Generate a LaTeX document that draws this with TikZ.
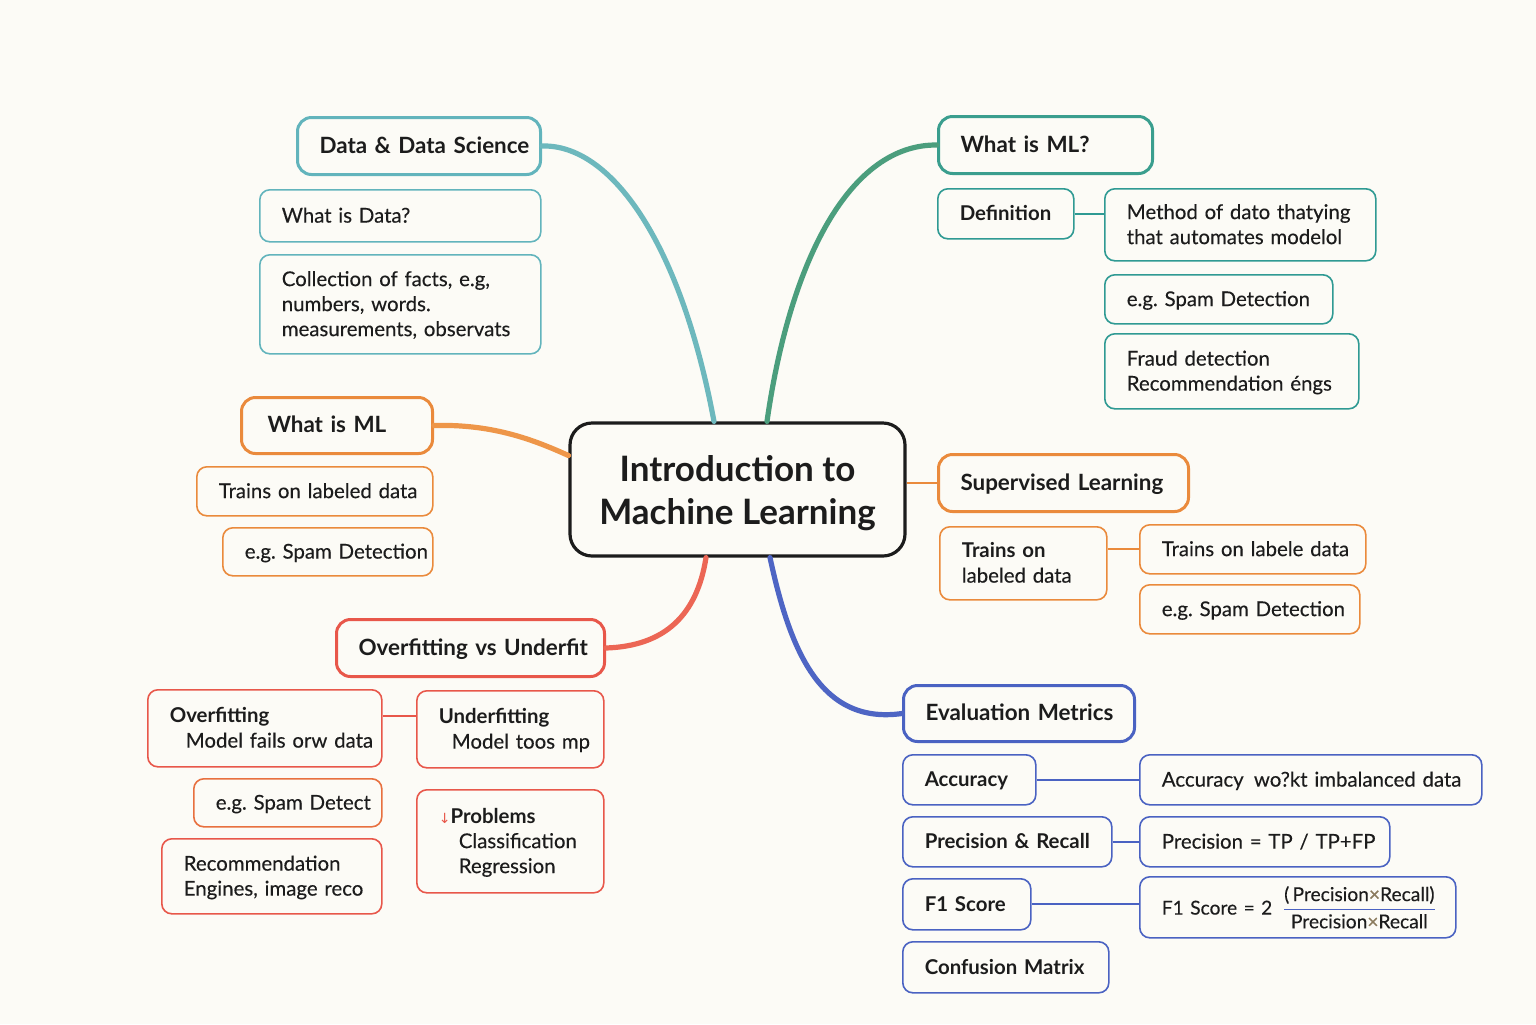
\documentclass[tikz,border=0pt]{standalone}
\usepackage{amsmath}
\usepackage{array}
\usepackage{fontspec}
\setmainfont{Lato}[UprightFeatures={FakeBold=0.25}]
\newfontfamily\arrowfont{DejaVu Sans}
\usetikzlibrary{positioning}

\definecolor{paper}{HTML}{FCFBF6}
\definecolor{ink}{HTML}{1C1C1C}
\definecolor{dataC}{HTML}{62B4BC}
\definecolor{dataL}{HTML}{6DB8BD}
\definecolor{mlC}{HTML}{3A9E8E}
\definecolor{mlL}{HTML}{2F9A93}
\definecolor{mlCurve}{HTML}{4B9E7D}
\definecolor{orangeC}{HTML}{EA8A3C}
\definecolor{orangeL}{HTML}{EE9649}
\definecolor{redC}{HTML}{E8574A}
\definecolor{redL}{HTML}{EC6655}
\definecolor{spamC}{HTML}{E8703F}
\definecolor{blueC}{HTML}{4A62C2}
\definecolor{blueL}{HTML}{4E65C4}
\definecolor{starC}{HTML}{8B7B5E}

\newcommand{\rows}[1]{\begin{tabular}{@{}l@{}}#1\end{tabular}}
\setlength\extrarowheight{3pt}
\frenchspacing

\begin{document}
\begin{tikzpicture}[x=0.5pt, y=-0.5pt,
    box/.style={rectangle, draw=#1, rounded corners=5pt, line width=0.8pt, inner xsep=11pt, inner ysep=0pt, anchor=north west, text=ink, font=\fontsize{10.2}{9.5}\selectfont},
    term/.style={box=#1, font=\fontsize{10.2}{9.5}\selectfont\bfseries},
    topic/.style={box=#1, rounded corners=7pt, line width=1.5pt, font=\fontsize{11.2}{11}\selectfont\bfseries},
    central/.style={rectangle, draw=ink, line width=1.6pt, rounded corners=11pt, minimum width=167.5pt, minimum height=66.5pt, align=center, text depth=0pt, text=ink, font=\fontsize{17.5}{21.5}\selectfont\bfseries},
    branch/.style={draw=#1, line width=2.6pt, line cap=round},
    link/.style={draw=#1, line width=0.9pt}
]
\fill[paper] (0,0) rectangle (1536,1024);

% Central topic
\node[central] (Center) at (737.5,489.5) {Introduction to\\Machine Learning};

% Data branch
\node[topic=dataC, text width=99.5pt, minimum height=28.5pt] (DataSci) at (296,116) {\rows{Data \& Data Science}};
\node[box=dataC, text width=118.5pt, minimum height=26pt] (WhatData) at (259,189) {\rows{What is Data?}};
\node[box=dataC, text width=118.5pt, minimum height=49.5pt] (Facts) at (259,254) {\rows{Collection of facts, e.g,\\numbers, words.\\measurements, observats}};

% What is ML branch (left)
\node[topic=orangeC, minimum height=28pt, inner xsep=13pt, text width=69.5pt] (WhatML) at (240,396) {\rows{What is ML}};
\node[box=orangeC, text width=96pt, minimum height=24.5pt] (TrainsL) at (196,466) {\rows{Trains on labeled data}};
\node[box=orangeC, text width=83pt, minimum height=24pt] (SpamL) at (222,527) {\rows{e.g. Spam Detection}};

% Overfitting branch
\node[topic=redC, text width=112pt, minimum height=28.5pt] (OverUnder) at (335,618) {\rows{Overfitting vs Underfit}};
\node[box=redC, text width=95pt, minimum height=38.5pt] (Overfit) at (147,689) {\rows{\textbf{Overfitting}\\\hspace*{8pt}Model fails orw data}};
\node[box=redC, text width=71.5pt, minimum height=38.5pt] (Underfit) at (416,690) {\rows{\textbf{Underfitting}\\\hspace*{6.5pt}Model toos mp}};
\node[box=spamC, text width=72pt, minimum height=24pt] (SpamDet) at (193,778) {\rows{e.g. Spam Detect}};
\node[box=redC, text width=88pt, minimum height=37.5pt] (Recomm) at (161,838) {\rows{Recommendation\\Engines, image reco}};
\node[box=redC, text width=71.5pt, minimum height=51.5pt] (Problems) at (416,789) {\rows{{\arrowfont\fontsize{7}{8}\selectfont\color{redC}↓}\textbf{Problems}\\\hspace*{10pt}Classification\\\hspace*{10pt}Regression}};

% What is ML? branch (right)
\node[topic=mlC, text width=85pt, minimum height=28.5pt] (WhatMLq) at (937,115) {\rows{What is ML?}};
\node[term=mlL, text width=46pt, minimum height=25pt] (Definition) at (937,188) {\rows{Definition}};
\node[box=mlL, text width=113.5pt, minimum height=36pt] (Method) at (1104,188) {\rows{Method of dato thatying\\that automates modelol}};
\node[box=mlL, text width=92pt, minimum height=24.5pt] (SpamR) at (1104,274) {\rows{e.g. Spam Detection}};
\node[box=mlL, text width=105pt, minimum height=37.5pt] (Fraud) at (1104,333) {\rows{Fraud detection\\Recommendation éngs}};

% Supervised branch
\node[topic=orangeC, text width=103pt, minimum height=28.5pt] (Superv) at (937,453) {\rows{Supervised Learning}};
\node[box=orangeC, text width=61.5pt, minimum height=36.5pt] (TrainsR) at (939,526) {\rows{\textbf{Trains on}\\labeled data}};
\node[box=orangeC, text width=91pt, minimum height=24.5pt] (TrainsLab) at (1139,524) {\rows{Trains on labele data}};
\node[box=orangeC, text width=88pt, minimum height=24.5pt] (SpamR2) at (1139,584) {\rows{e.g. Spam Detection}};

% Evaluation branch
\node[topic=blueC, text width=93.5pt, minimum height=28pt] (Eval) at (902,684) {\rows{Evaluation Metrics}};
\node[term=blueC, text width=44.5pt, minimum height=25pt] (Acc) at (902,754) {\rows{Accuracy}};
\node[box=blueC, text width=149pt, minimum height=25pt] (AccNote) at (1139,754) {\rows{Accuracy\enspace wo?kt imbalanced data}};
\node[term=blueC, text width=82.5pt, minimum height=25pt] (PR) at (902,816) {\rows{Precision \& Recall}};
\node[box=blueC, text width=103pt, minimum height=25pt] (PrecF) at (1139,816) {\rows{Precision = TP / TP+FP}};
\node[term=blueC, text width=42pt, minimum height=25.5pt] (F1) at (902,878) {\rows{F1 Score}};
\node[box=blueC, text width=136pt, minimum height=30.5pt, font=\fontsize{9.6}{9.5}\selectfont] (F1F) at (1139,876) {\rows{F1 Score = 2\enspace$\color{blueC}\dfrac{\mbox{\color{ink}(\,Precision\textcolor{starC}{×}Recall)}}{\mbox{\color{ink}Precision\textcolor{starC}{×}Recall}}$}};
\node[term=blueC, text width=81pt, minimum height=25.5pt] (Conf) at (902,941) {\rows{Confusion Matrix}};

% Branches
\draw[branch=dataL] (DataSci.east) .. controls (610,144) and (680,240) .. ([xshift=-11.75pt]Center.north);
\draw[branch=mlCurve] ([xshift=14.75pt]Center.north) .. controls (790,260) and (850,144) .. (WhatMLq.west);
\draw[branch=orangeL] (WhatML.east) .. controls (490,424) and (530,438) .. ([yshift=17pt]Center.west);
\draw[branch=redL] ([xshift=-15.75pt]Center.south) .. controls (697,615) and (665,646) .. (OverUnder.east);
\draw[branch=blueL] ([xshift=16.25pt]Center.south) .. controls (790,650) and (820,725) .. (Eval.west);

% Connections
\draw[link=orangeC] (Center.east |- Superv.west) -- (Superv.west);
\draw[link=mlL] (Definition.east) -- (Definition.east -| Method.west);
\draw[link=orangeC] (TrainsLab.west -| TrainsR.east) -- (TrainsLab.west);
\draw[link=redC] ([yshift=6pt]Overfit.east) -- ([yshift=6pt]Overfit.east -| Underfit.west);
\draw[link=blueC] (Acc.east) -- (Acc.east -| AccNote.west);
\draw[link=blueC] (PR.east) -- (PR.east -| PrecF.west);
\draw[link=blueC] (F1.east) -- (F1.east -| F1F.west);

\end{tikzpicture}
\end{document}
